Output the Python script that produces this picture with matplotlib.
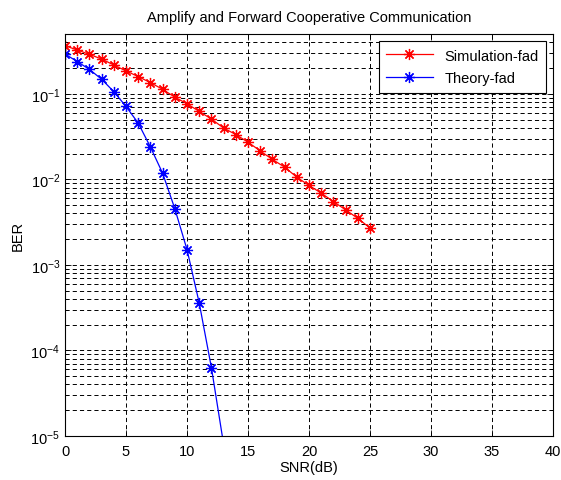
import matplotlib
matplotlib.use("Agg")
import matplotlib.pyplot as plt
from matplotlib.ticker import LogLocator, FixedLocator

plt.rcParams['font.family'] = ['Liberation Sans', 'DejaVu Sans']
plt.rcParams['mathtext.default'] = 'regular'
plt.rcParams['lines.scale_dashes'] = False

snr_sim = list(range(0, 26))
ber_sim = [0.365, 0.325, 0.289, 0.255, 0.217, 0.185, 0.159, 0.135, 0.113, 0.0913,
           0.0765, 0.0623, 0.0507, 0.0398, 0.0334, 0.0272, 0.0215, 0.0171, 0.0139,
           0.0106, 0.0085, 0.0069, 0.0055, 0.0044, 0.0035, 0.0027]

snr_th = list(range(0, 15))
ber_th = [0.292, 0.238, 0.193, 0.148, 0.106, 0.0711, 0.0455, 0.0239, 0.0118,
          0.00455, 0.00151, 3.6e-4, 6.3e-5, 8e-6, 8e-7]

title = "Amplify and Forward Cooperative Communication"
xlabel = "SNR(dB)"
ylabel = "BER"
labels = ["Simulation-fad", "Theory-fad"]
xticks = [0, 5, 10, 15, 20, 25, 30, 35, 40]

fig = plt.figure(figsize=(5.61, 4.81), dpi=100)
ax = fig.add_axes([65/561, 1-437/481, (553-65)/561, (437-35)/481])

ast = (8, 2, 0)
ax.semilogy(snr_sim, ber_sim, color='#ff0000', lw=0.9, marker=ast, ms=8, mew=0.9,
            label=labels[0])
ax.semilogy(snr_th, ber_th, color='#0000ff', lw=0.9, marker=ast, ms=8, mew=0.9,
            label=labels[1])

ax.set_xlim(0, 40)
ax.set_ylim(1e-5, 0.5)
ax.xaxis.set_major_locator(FixedLocator(xticks))
ax.yaxis.set_major_locator(LogLocator(base=10, numticks=10))
ax.yaxis.set_minor_locator(LogLocator(base=10, subs=range(2, 10), numticks=20))

grid_kw = dict(color='black', lw=0.7, linestyle=(0, (3.0, 2.2)))
ax.grid(True, which='major', axis='both', **grid_kw)
ax.grid(True, which='minor', axis='y', **grid_kw)

ax.tick_params(which='both', direction='in', top=True, right=True, labelsize=10.5,
               width=0.6)
ax.tick_params(axis='x', which='major', pad=6)
ax.tick_params(which='major', length=4)
ax.tick_params(which='minor', length=2.5)
for s in ax.spines.values():
    s.set_linewidth(0.8)

ax.set_title(title, fontsize=10.5, pad=9)
ax.set_xlabel(xlabel, fontsize=10.5, labelpad=1)
ax.set_ylabel(ylabel, fontsize=10.5, labelpad=4)

leg = ax.legend(loc='upper right', fontsize=10.5, fancybox=False, edgecolor='black',
                framealpha=1, handlelength=3.2, borderaxespad=0.5,
                labelspacing=0.6, borderpad=0.5)
leg.get_frame().set_linewidth(0.8)

fig.savefig("out.png", dpi=100)
